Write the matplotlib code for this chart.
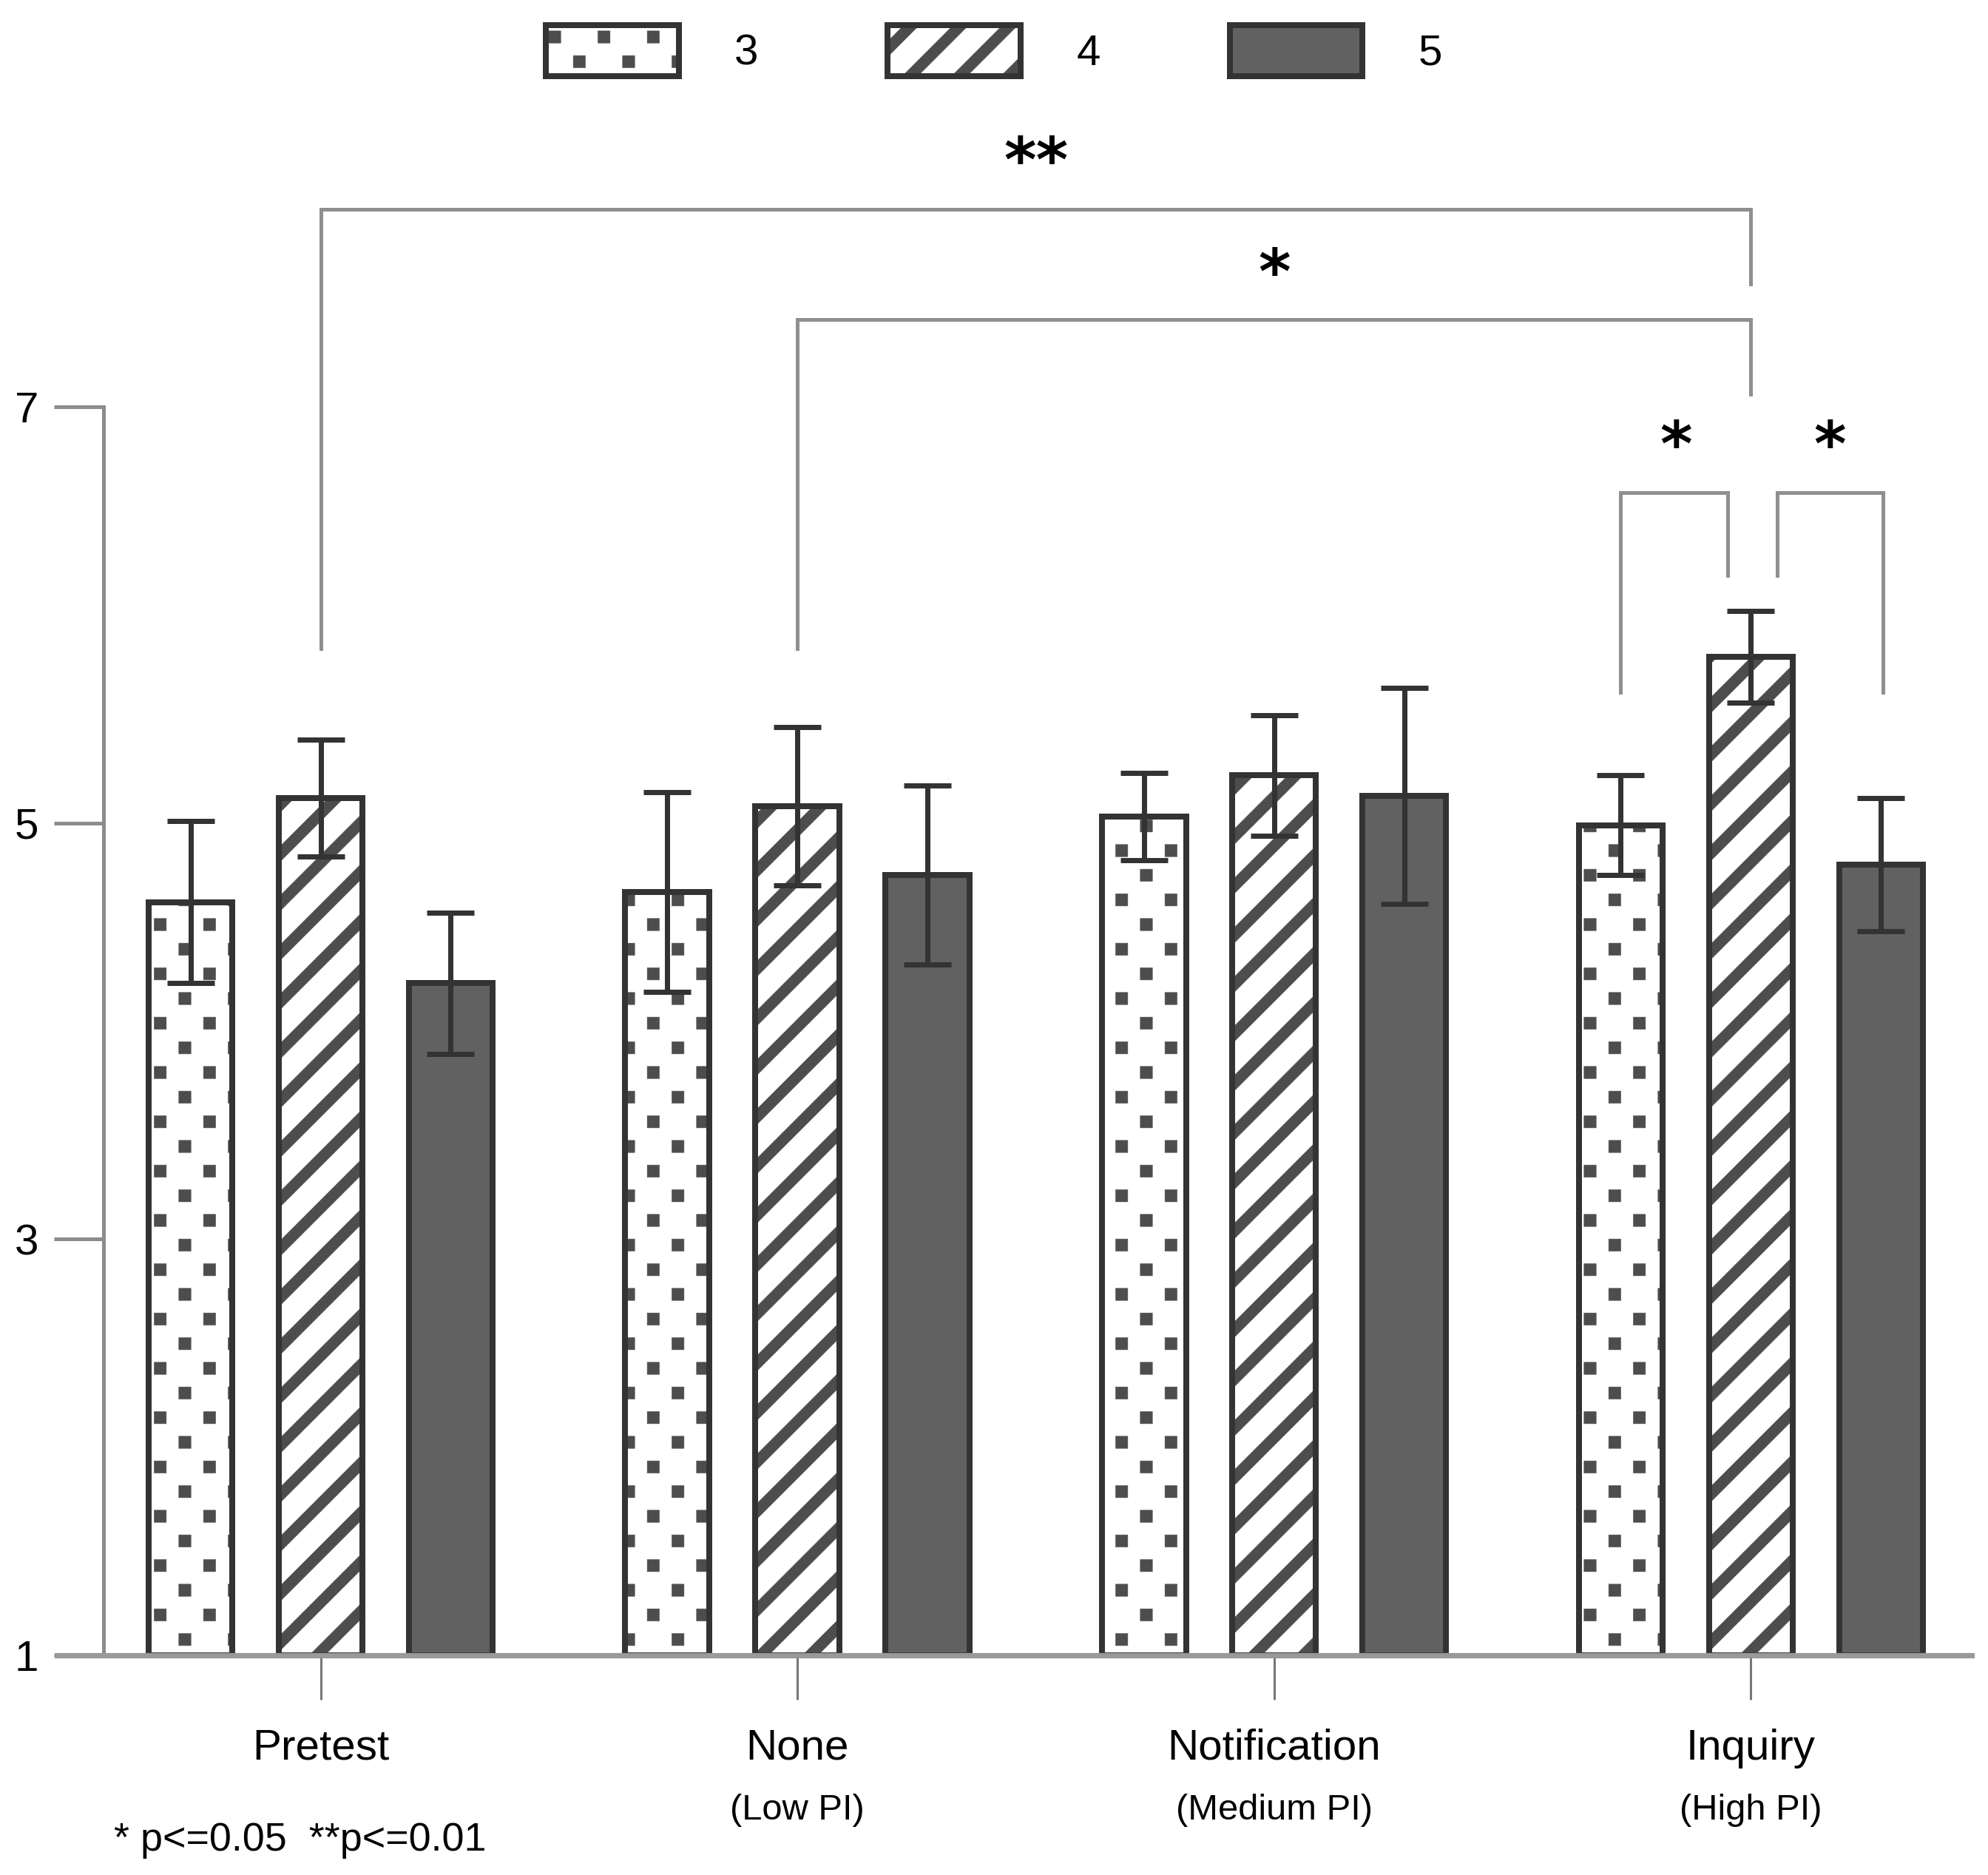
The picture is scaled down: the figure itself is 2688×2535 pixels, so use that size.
import numpy as np
import matplotlib
matplotlib.use('Agg')
import matplotlib.pyplot as plt
import matplotlib.hatch as mhatch
from matplotlib.path import Path
from matplotlib.patches import Patch
from matplotlib.transforms import blended_transform_factory

groups = ['Pretest', 'None', 'Notification', 'Inquiry']
sublabels = ['', '(Low PI)', '(Medium PI)', '(High PI)']
series = ['3', '4', '5']
means_3 = [4.62, 4.67, 5.03, 4.99]
err_3 = [0.39, 0.48, 0.21, 0.24]
means_4 = [5.12, 5.08, 5.23, 5.80]
err_4 = [0.28, 0.38, 0.29, 0.22]
means_5 = [4.23, 4.75, 5.13, 4.80]
err_5 = [0.34, 0.43, 0.52, 0.32]

# significance brackets: x left, x right, top, left leg end, right leg end
brackets = [
    (0.0, 3.0, 7.95, 5.84, 7.59),
    (1.0, 3.0, 7.42, 5.84, 7.06),
    (2.727, 2.952, 6.59, 5.63, 6.19),
    (3.056, 3.277, 6.59, 6.19, 5.63),
]
stars = ['**', '*', '*', '*']
stars_x = [1.50, 2.00, 2.843, 3.165]
stars_y = [8.085, 7.55, 6.72, 6.72]

CLOSED = [Path.MOVETO, Path.LINETO, Path.LINETO, Path.LINETO, Path.CLOSEPOLY]


# hatch patterns drawn as filled shapes so the stroke width does not matter
class SquareDots(mhatch.HatchPatternBase):
    def __init__(self, hatch, density):
        self.n = int(hatch.count('.') * density)
        self.num_vertices = self.n ** 2 * 2 * 5

    def set_vertices_and_codes(self, vertices, codes):
        n = self.n
        c = (np.arange(n) + 0.25) / n
        cx, cy = np.meshgrid(c, c)
        pts = np.column_stack([cx.ravel(), cy.ravel()])
        centers = np.concatenate([pts, pts + 0.5 / n])
        h = 0.0205
        sq = np.array([[-h, -h], [h, -h], [h, h], [-h, h], [-h, -h]])
        vertices[:] = (centers[:, None, :] + sq[None]).reshape(-1, 2)
        codes[:] = np.tile(CLOSED, len(centers))


class DiagonalBands(mhatch.HatchPatternBase):
    def __init__(self, hatch, density):
        self.n = int(hatch.count('/') * density)
        self.offsets = np.arange(-self.n - 1, self.n + 2) / max(self.n, 1)
        self.num_vertices = len(self.offsets) * 5 if self.n else 0

    def set_vertices_and_codes(self, vertices, codes):
        d = 0.052
        for i, c in enumerate(self.offsets):
            vertices[i * 5:(i + 1) * 5] = [
                [-1, -1 - c - d / 2], [2, 2 - c - d / 2],
                [2, 2 - c + d / 2], [-1, -1 - c + d / 2],
                [-1, -1 - c - d / 2]]
        codes[:] = np.tile(CLOSED, len(self.offsets))


swap = {mhatch.SmallFilledCircles: SquareDots, mhatch.NorthEastHatch: DiagonalBands}
mhatch._hatch_types = [swap.get(t, t) for t in mhatch._hatch_types]

plt.rcParams['font.family'] = ['Liberation Sans', 'DejaVu Sans']
plt.rcParams['hatch.linewidth'] = 0.1

fig = plt.figure(figsize=(6.72, 6.3375), dpi=400)
ax = fig.add_axes([0.02866, 0.1173, 0.9631, 0.8431])

x = np.arange(len(groups))
off = 0.273
w = 0.176
edge = '#333333'
pattern = '#4d4d4d'
fills = [dict(facecolor='white', hatch='.', edgecolor=pattern, linewidth=0),
         dict(facecolor='white', hatch='/', edgecolor=pattern, linewidth=0),
         dict(facecolor='#616161', linewidth=0)]
outline = dict(fill=False, edgecolor=edge, linewidth=1.44)
means = [means_3, means_4, means_5]
errs = [err_3, err_4, err_5]

for k in range(3):
    pos = x + (k - 1) * off
    m = np.array(means[k])
    ax.bar(pos, m - 1, w, bottom=1, **fills[k])
    ax.bar(pos, m - 1, w, bottom=1, **outline)
    ax.errorbar(pos, m, yerr=errs[k], fmt='none', ecolor=edge, elinewidth=1.26,
                capsize=5.8, capthick=1.26)

for (xl, xr, top, yl, yr) in brackets:
    ax.plot([xl, xl, xr, xr], [yl, top, top, yr], color='#8f8f8f', lw=0.9,
            solid_joinstyle='miter')

for s, sx, sy in zip(stars, stars_x, stars_y):
    ax.text(sx, sy, s, ha='center', va='baseline', fontsize=15,
            fontweight='bold', family='DejaVu Sans', color='black')

ax.set_xlim(-0.553, 3.463)
ax.set_ylim(1, 8.6)
for side in ['top', 'right']:
    ax.spines[side].set_visible(False)
ax.spines['left'].set_position(('data', -0.455))
ax.spines['left'].set_bounds(1, 7)
ax.spines['left'].set_color('#8c8c8c')
ax.spines['left'].set_linewidth(0.9)
ax.spines['bottom'].set_color('#999999')
ax.spines['bottom'].set_linewidth(1.3)

ax.set_yticks([1, 3, 5, 7])
ax.tick_params(axis='y', length=12, width=0.9, color='#8c8c8c', pad=3.8,
               labelsize=10.5)
ax.set_xticks(x, groups)
ax.tick_params(axis='x', length=10.8, width=0.55, color='#777777', pad=7.0,
               labelsize=10.5)

trans = blended_transform_factory(ax.transData, fig.transFigure)
for i, sub in enumerate(sublabels):
    ax.text(i, 0.0296, sub, transform=trans, ha='center', va='baseline',
            fontsize=8.8)

fig.text(0.0573, 0.013, '* p<=0.05  **p<=0.01', fontsize=9.7, va='baseline')

handles = [(Patch(**f), Patch(**outline)) for f in fills]
fig.legend(handles, series, loc='center', bbox_to_anchor=(0.5, 0.973),
           ncol=3, frameon=False, fontsize=10.5, handlelength=3.08,
           handleheight=1.45, handletextpad=1.29, columnspacing=3.0,
           borderpad=0, borderaxespad=0)

fig.savefig('out.png', dpi=400)
